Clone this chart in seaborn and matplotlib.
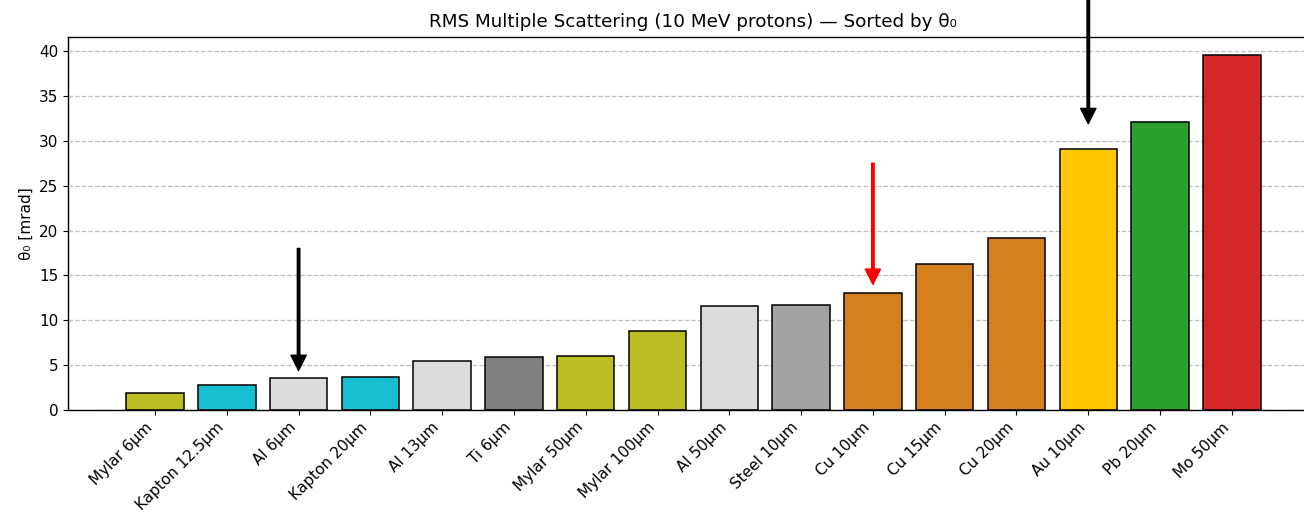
import matplotlib
matplotlib.use("Agg")
import matplotlib.pyplot as plt
import seaborn as sns
import pandas as pd

labels = ["Mylar 6µm", "Kapton 12.5µm", "Al 6µm", "Kapton 20µm", "Al 13µm", "Ti 6µm",
          "Mylar 50µm", "Mylar 100µm", "Al 50µm", "Steel 10µm", "Cu 10µm", "Cu 15µm",
          "Cu 20µm", "Au 10µm", "Pb 20µm", "Mo 50µm"]
theta0 = [1.9, 2.8, 3.55, 3.65, 5.45, 5.9, 6.0, 8.8, 11.6, 11.7, 13.0, 16.3, 19.2, 29.1, 32.1, 39.6]
colors = ["#bcbd22", "#17becf", "#dcdbdc", "#17becf", "#dcdbdc", "#7f7f7f",
          "#bcbd22", "#bcbd22", "#dcdbdc", "#a3a3a3", "#d4801e", "#d4801e",
          "#d4801e", "#ffc800", "#2ca02c", "#d62728"]

# arrows: (label, tail y, tip y, color)
arrow_labels = ["Al 6µm", "Cu 10µm", "Au 10µm"]
arrow_tail = [18.0, 27.5, 46.0]
arrow_tip = [4.4, 14.0, 31.9]
arrow_colors = ["black", "red", "black"]

df = pd.DataFrame({"label": labels, "theta0": theta0})

plt.rcParams["font.size"] = 11

fig = plt.figure(figsize=(13.04, 5.15), dpi=100)
ax = fig.add_axes([68/1304, 105/515, 1250/1304, 373/515])

sns.barplot(data=df, x="label", y="theta0", hue="label", palette=colors,
            edgecolor="black", linewidth=1.1, width=0.8, legend=False, ax=ax,
            saturation=1)

ax.set_xlim(-1.212, 16.2)
ax.set_ylim(0, 41.56)
ax.set_xlabel("")
ax.set_ylabel("θ₀ [mrad]", fontsize=11)
ax.set_title("RMS Multiple Scattering (10 MeV protons) — Sorted by θ₀", fontsize=13.2, pad=7)
ax.yaxis.grid(True, linestyle="--", color="#b0b0b0", alpha=0.8, linewidth=0.9)
ax.set_axisbelow(True)
ax.tick_params(axis="both", labelsize=11)
plt.setp(ax.get_xticklabels(), rotation=45, ha="right")
for s in ax.spines.values():
    s.set_linewidth(1.0)

for lab, y0, y1, c in zip(arrow_labels, arrow_tail, arrow_tip, arrow_colors):
    xi = labels.index(lab)
    ax.annotate("", xy=(xi, y1), xytext=(xi, y0), annotation_clip=False,
                arrowprops=dict(facecolor=c, edgecolor=c, width=1.8,
                                headwidth=11, headlength=11, shrink=0))

fig.savefig("out.png", dpi=100)
